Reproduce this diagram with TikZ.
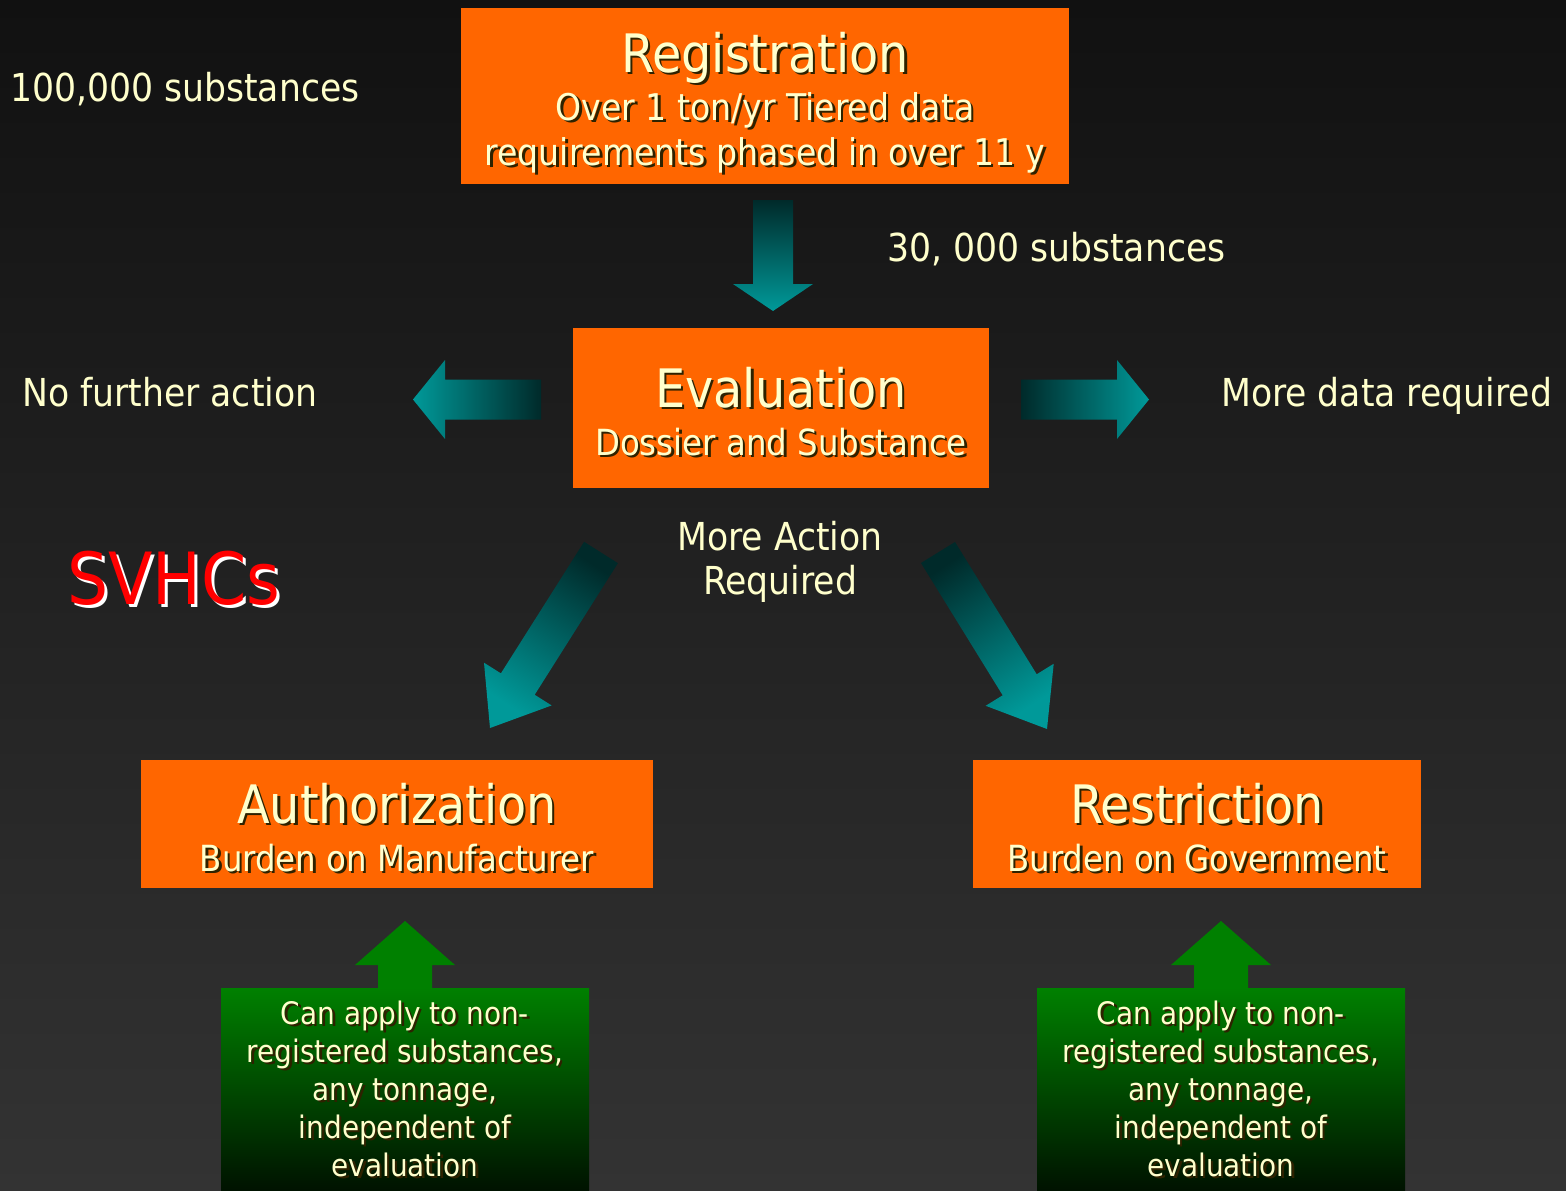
\documentclass[tikz,border=0pt]{standalone}
\usepackage{fontspec}
\setmainfont{DejaVu Sans Condensed}
\usetikzlibrary{calc}

\definecolor{bgtop}{HTML}{111111}
\definecolor{bgbot}{HTML}{333333}
\definecolor{boxorange}{HTML}{FF6600}
\definecolor{cream}{HTML}{FFFFCC}
\definecolor{tealhi}{HTML}{009999}
\definecolor{teallo}{HTML}{002A2A}
\definecolor{greenhi}{HTML}{008000}
\definecolor{greenlo}{HTML}{001200}
\definecolor{shadowc}{HTML}{2E2200}

% text with a small drop shadow
\newcommand\shtxt[1]{\leavevmode\rlap{\kern2.5pt\raisebox{-2.5pt}{\color{shadowc}#1}}#1}
% block arrow: tail, tip, shaft half width, head half width, head length, style
\newcommand\blockarrow[6]{%
\coordinate (#1-hb) at ($(#2)!#5!(#1)$);
\path[#6] ($(#1)!#3!90:(#2)$) -- ($(#1-hb)!#3!90:(#2)$) -- ($(#1-hb)!#4!90:(#2)$)
  -- (#2) -- ($(#1-hb)!#4!-90:(#2)$) -- ($(#1-hb)!#3!-90:(#2)$) -- ($(#1)!#3!-90:(#2)$) -- cycle;
}

\begin{document}
\begin{tikzpicture}[x=1pt,y=-1pt,
obox/.style={%
fill=boxorange,
inner sep=0pt
},
gbox/.style={%
top color=greenhi,
bottom color=greenlo,
inner sep=0pt,
minimum width=368,
minimum height=203
},
ttl/.style={%
text=cream,
anchor=base,
inner sep=0pt,
font=\fontsize{53}{60}\selectfont
},
sub/.style={%
text=cream,
anchor=base,
inner sep=0pt,
align=center,
font=\fontsize{36}{45}\selectfont
},
plain/.style={%
text=cream,
inner sep=0pt,
font=\fontsize{38.5}{44}\selectfont
},
gtext/.style={%
text=cream,
anchor=base,
inner sep=0pt,
align=center,
font=\fontsize{31}{38}\selectfont
},
]
%% Background
\useasboundingbox (0,0) rectangle (1566,1191);
\shade[top color=bgtop,bottom color=bgbot] (0,0) rectangle (1566,1191);
%% Boxes (multi-line texts sit on their last baseline)
\node[obox,minimum width=608,minimum height=176]at(765,96)(reg){};
\node[ttl]at(765,72)(reg-t){\shtxt{Registration}};
\node[sub,font=\fontsize{36.8}{45}\selectfont]at(765,165)(reg-s){\shtxt{Over 1 ton/yr Tiered data}\\\shtxt{requirements phased in over 11 y}};
\node[obox,minimum width=416,minimum height=160]at(781,408)(eval){};
\node[ttl]at(781,407)(eval-t){\shtxt{Evaluation}};
\node[sub]at(781,455)(eval-s){\shtxt{Dossier and Substance}};
\node[obox,minimum width=512,minimum height=128]at(397,824)(auth){};
\node[ttl]at(397,823)(auth-t){\shtxt{Authorization}};
\node[sub]at(397,871)(auth-s){\shtxt{Burden on Manufacturer}};
\node[obox,minimum width=448,minimum height=128]at(1197,824)(restr){};
\node[ttl]at(1197,823)(restr-t){\shtxt{Restriction}};
\node[sub]at(1197,871)(restr-s){\shtxt{Burden on Government}};
%% Free texts
\node[plain,anchor=base west]at(10,101)(n100k){100,000 substances};
\node[plain,anchor=base west]at(887,261)(n30k){30, 000 substances};
\node[plain,anchor=base west]at(22,406)(nofurther){No further action};
\node[plain,anchor=base west]at(1221,406)(moredata){More data required};
\node[plain,anchor=base,align=center]at(780,594)(moreaction){More Action\\Required};
\node[anchor=base west,inner sep=0pt,font=\fontsize{72}{80}\selectfont]at(67,604)(svhc){%
\rlap{\kern3pt\raisebox{-3pt}{\color{white}SVHCs}}\textcolor{red}{SVHCs}};
%% Teal arrows
\coordinate (dtail) at (773,200);
\coordinate (dtip) at (773,311);
\coordinate (ltail) at (541,399.5);
\coordinate (ltip) at (413,399.5);
\coordinate (rtail) at (1021,399.5);
\coordinate (rtip) at (1149,399.5);
\coordinate (sltail) at (601,552.5);
\coordinate (sltip) at (490,728);
\coordinate (srtail) at (938,552.5);
\coordinate (srtip) at (1047,729);
\blockarrow{dtail}{dtip}{20pt}{40pt}{27pt}{top color=teallo,bottom color=tealhi}
\blockarrow{ltail}{ltip}{20pt}{39.5pt}{32pt}{left color=tealhi,right color=teallo}
\blockarrow{rtail}{rtip}{20pt}{39.5pt}{32pt}{left color=teallo,right color=tealhi}
\blockarrow{sltail}{sltip}{20pt}{40pt}{52pt}{top color=teallo,bottom color=tealhi,shading angle=-33}
\blockarrow{srtail}{srtip}{20pt}{40pt}{52pt}{top color=teallo,bottom color=tealhi,shading angle=33}
%% Green boxes
\node[gbox]at(405,1089.5)(gl){};
\node[gbox]at(1221,1089.5)(gr){};
\coordinate (gltail) at (gl.north);
\coordinate (grtail) at (gr.north);
\coordinate (gltip) at (405,921);
\coordinate (grtip) at (1221,921);
\blockarrow{gltail}{gltip}{27pt}{50pt}{44pt}{fill=greenhi}
\blockarrow{grtail}{grtip}{27pt}{50pt}{44pt}{fill=greenhi}
\node[gtext]at(405,1176)(gl-t){\shtxt{Can apply to non-}\\\shtxt{registered substances,}\\\shtxt{any tonnage,}\\\shtxt{independent of}\\\shtxt{evaluation}};
\node[gtext]at(1221,1176)(gr-t){\shtxt{Can apply to non-}\\\shtxt{registered substances,}\\\shtxt{any tonnage,}\\\shtxt{independent of}\\\shtxt{evaluation}};
\end{tikzpicture}
\end{document}
